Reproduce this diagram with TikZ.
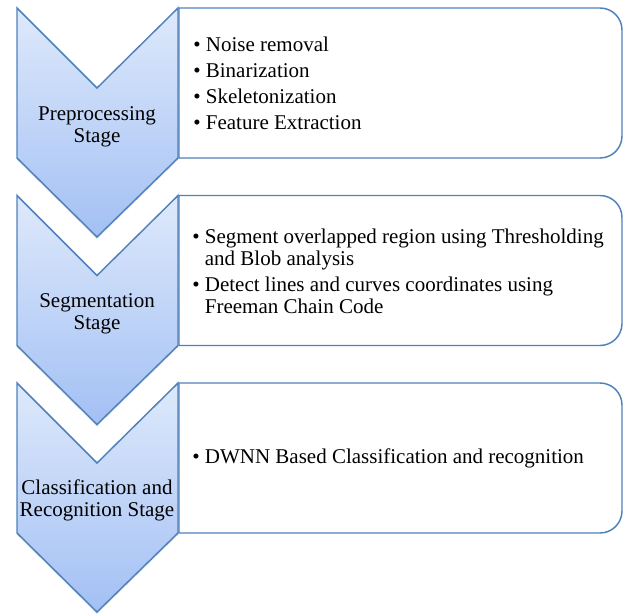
\documentclass[tikz,border=0pt]{standalone}
\usepackage{fontspec}
\setmainfont{Liberation Serif}
\usetikzlibrary{shadows}

\definecolor{stageline}{RGB}{79,129,189}
\definecolor{stagetop}{RGB}{222,233,251}
\definecolor{stagebottom}{RGB}{163,192,244}

\begin{document}
\begin{tikzpicture}[x = 0.75pt, y = -0.75pt,
	stage/.style = {draw = stageline, line width = 1.1pt, top color = stagetop, bottom color = stagebottom, drop shadow = {opacity = 0.2, shadow xshift = 0pt, shadow yshift = -1.5pt}},
	panel/.style = {draw = stageline, line width = 1.1pt, fill = white},
	stagelabel/.style = {align = center, inner sep = 0pt, font = \fontsize{15.75pt}{16.5pt}\selectfont},
	itemlist/.style = {anchor = west, align = left, inner sep = 0pt, font = \fontsize{15.75pt}{16.5pt}\selectfont}]

	\useasboundingbox (0, 0) rectangle (624, 615);
	
	\foreach \off in {0, 187.5, 375} {
		\draw [panel] (179, 158 + \off) -- (179, 8 + \off) [rounded corners = 16.5pt] -- (622, 8 + \off) -- (622, 158 + \off) [sharp corners] -- cycle;
		\path [stage] (17, 8 + \off) -- (97, 88 + \off) -- (178, 8 + \off) -- (178, 158 + \off) -- (97, 237 + \off) -- (17, 158 + \off) -- cycle;
	}
	
	\node [stagelabel] (pre) at (97, 126.5) {Preprocessing\\Stage};
	\node [stagelabel] (seg) at (97, 313.5) {Segmentation\\Stage};
	\node [stagelabel] (cls) at (97, 500) {Classification and\\Recognition Stage};
	
	\node [itemlist] (prelist) at (193, 83.5) {\textbullet\ Noise removal\\[3pt]\textbullet\ Binarization\\[3pt]\textbullet\ Skeletonization\\[3pt]\textbullet\ Feature Extraction};
	
	\node [itemlist] (seglist) at (192, 271) {\textbullet\ Segment overlapped region using Thresholding\\\phantom{\textbullet\ }and Blob analysis\\[3pt]\textbullet\ Detect lines and curves coordinates using\\\phantom{\textbullet\ }Freeman Chain Code};
	
	\node [itemlist] (clslist) at (192, 458) {\textbullet\ DWNN Based Classification and recognition};

\end{tikzpicture}
\end{document}
